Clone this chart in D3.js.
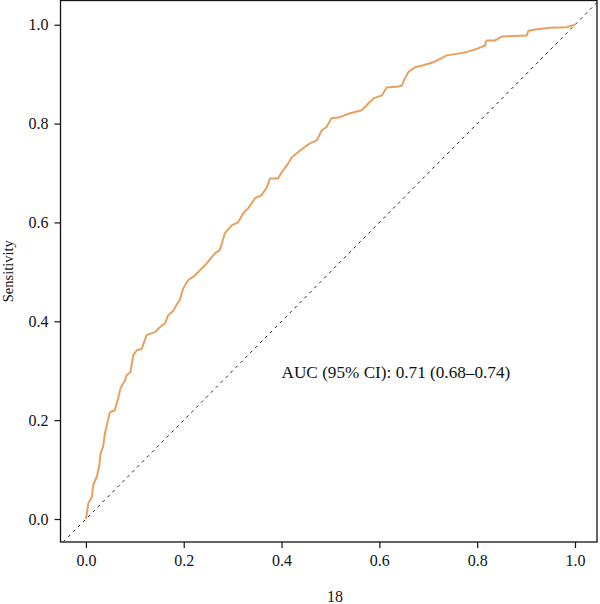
<!DOCTYPE html>
<html>
  <head>
    <meta charset="utf-8">
    <title>ROC curve</title>
    <script src="https://d3js.org/d3.v7.min.js"></script>
    <style>
      body { margin: 0; background: #fff; }
      #chart { display: block; font-family: "Liberation Serif", "Times New Roman", serif; }
      .tick text { font-size: 16px; fill: #111; }
      .tick line, .domain { stroke: #111; }
    </style>
  </head>
  <body>
    <svg id="chart" width="600" height="604"></svg>
    <script>
      // values (1 - specificity, sensitivity)
      let fpr = [0, 0.005, 0.012, 0.015, 0.022, 0.027, 0.030, 0.035, 0.039, 0.044, 0.049, 0.059,
        0.066, 0.071, 0.080, 0.083, 0.091, 0.097, 0.105, 0.114, 0.124, 0.141, 0.151, 0.162,
        0.168, 0.179, 0.185, 0.192, 0.199, 0.209, 0.223, 0.233, 0.247, 0.264, 0.274, 0.284,
        0.298, 0.311, 0.322, 0.332, 0.346, 0.359, 0.370, 0.376, 0.393, 0.400, 0.414, 0.421,
        0.431, 0.444, 0.458, 0.472, 0.482, 0.492, 0.502, 0.519, 0.540, 0.564, 0.574, 0.588,
        0.605, 0.615, 0.639, 0.646, 0.652, 0.659, 0.673, 0.690, 0.710, 0.724, 0.738, 0.758,
        0.779, 0.799, 0.816, 0.819, 0.836, 0.850, 0.901, 0.905, 0.915, 0.949, 0.983, 1];
      let tpr = [0, 0.032, 0.044, 0.069, 0.085, 0.105, 0.133, 0.146, 0.174, 0.196, 0.216, 0.220,
        0.245, 0.265, 0.281, 0.291, 0.297, 0.332, 0.342, 0.344, 0.372, 0.378, 0.388, 0.396,
        0.412, 0.422, 0.433, 0.443, 0.467, 0.483, 0.493, 0.503, 0.517, 0.538, 0.544, 0.578,
        0.594, 0.600, 0.619, 0.629, 0.649, 0.655, 0.671, 0.689, 0.689, 0.701, 0.720, 0.732,
        0.740, 0.750, 0.760, 0.766, 0.786, 0.793, 0.811, 0.813, 0.821, 0.827, 0.837, 0.851,
        0.857, 0.873, 0.875, 0.877, 0.891, 0.904, 0.914, 0.918, 0.924, 0.931, 0.938, 0.941,
        0.945, 0.951, 0.958, 0.968, 0.968, 0.976, 0.978, 0.988, 0.990, 0.994, 0.995, 1];
      let xTicks = [0, 0.2, 0.4, 0.6, 0.8, 1];
      let yTicks = [0, 0.2, 0.4, 0.6, 0.8, 1];
      let aucLabel = "AUC (95% CI): 0.71 (0.68\u20130.74)";
      let yTitle = "Sensitivity";
      let xTitle = "18";

      let width = 600, height = 604;
      let margin = { top: 0.5, right: 3, bottom: 62, left: 60.5 };
      let chart = d3.select("#chart");

      let x = d3.scaleLinear()
        .domain([-0.052, 1.045])
        .range([margin.left, width - margin.right]);
      let y = d3.scaleLinear()
        .domain([-0.0465, 1.049])
        .range([height - margin.bottom, margin.top]);

      let roc = fpr.map(function(d, i) { return [d, tpr[i]]; });

      // box
      chart.append("rect")
        .attr("x", margin.left)
        .attr("y", margin.top)
        .attr("width", width - margin.right - margin.left)
        .attr("height", height - margin.bottom - margin.top)
        .attr("fill", "none")
        .attr("stroke", "#111")
        .attr("stroke-width", 1.3);

      // axes
      let xAxis = d3.axisBottom(x)
        .tickValues(xTicks)
        .tickFormat(d3.format(".1f"))
        .tickSizeOuter(0)
        .tickSizeInner(6)
        .tickPadding(7);
      let yAxis = d3.axisLeft(y)
        .tickValues(yTicks)
        .tickFormat(d3.format(".1f"))
        .tickSizeOuter(0)
        .tickSizeInner(6)
        .tickPadding(6);
      chart.append("g")
        .attr("transform", "translate(0," + (height - margin.bottom) + ")")
        .call(xAxis);
      chart.append("g")
        .attr("transform", "translate(" + margin.left + ",0)")
        .call(yAxis);
      chart.selectAll(".domain").remove();
      chart.selectAll(".tick text").style("font-family", "Liberation Serif, serif");
      chart.selectAll(".tick line").attr("stroke-width", 1.2);

      // clip
      chart.append("clipPath")
        .attr("id", "plotClip")
        .append("rect")
          .attr("x", margin.left)
          .attr("y", margin.top)
          .attr("width", width - margin.right - margin.left)
          .attr("height", height - margin.bottom - margin.top);
      let plot = chart.append("g").attr("clip-path", "url(#plotClip)");

      // reference diagonal
      let lo = Math.max(x.domain()[0], y.domain()[0]);
      let hi = Math.min(x.domain()[1], y.domain()[1]);
      plot.append("line")
        .attr("x1", x(lo)).attr("y1", y(lo))
        .attr("x2", x(hi)).attr("y2", y(hi))
        .attr("stroke", "#222")
        .attr("stroke-width", 1)
        .attr("stroke-dasharray", "3,4");

      // ROC curve
      let line = d3.line()
        .x(function(d) { return x(d[0]); })
        .y(function(d) { return y(d[1]); });
      plot.append("path")
        .datum(roc)
        .attr("d", line)
        .attr("fill", "none")
        .attr("stroke", "#e8a060")
        .attr("stroke-width", 2)
        .attr("stroke-linejoin", "round");

      // texts
      chart.append("text")
        .attr("x", x(0.4))
        .attr("y", 378)
        .attr("font-size", 17.2)
        .attr("fill", "#111")
        .text(aucLabel);
      chart.append("text")
        .attr("transform", "translate(13," + ((margin.top + height - margin.bottom) / 2) + ") rotate(-90)")
        .attr("text-anchor", "middle")
        .attr("font-size", 14.5)
        .attr("fill", "#111")
        .text(yTitle);
      chart.append("text")
        .attr("x", 335)
        .attr("y", 602)
        .attr("text-anchor", "middle")
        .attr("font-size", 16)
        .attr("fill", "#111")
        .text(xTitle);
    </script>
  </body>
</html>
